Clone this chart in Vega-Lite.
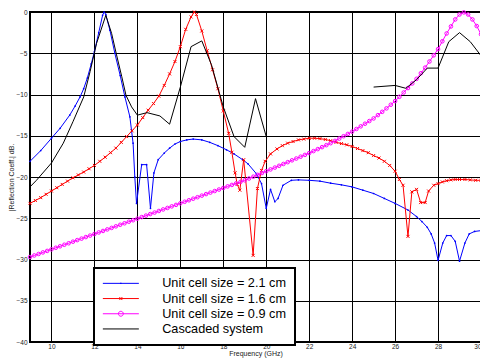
{
  "$schema": "https://vega.github.io/schema/vega-lite/v6.json",
  "width": 451,
  "height": 330,
  "autosize": {"type": "none"},
  "padding": {"left": 30, "top": 12, "right": 0, "bottom": 20},
  "background": "white",
  "config": {
    "font": "Liberation Sans",
    "view": {"stroke": "#000", "strokeWidth": 2},
    "axis": {
      "grid": true, "gridColor": "#000", "gridOpacity": 1, "gridWidth": 1,
      "ticks": false, "domain": false,
      "labelFontSize": 6.5, "labelColor": "#222", "labelFont": "Liberation Sans",
      "titleFontSize": 7, "titleFontWeight": "normal", "titleColor": "#222", "titleFont": "Liberation Sans"
    }
  },
  "datasets": {
    "blue": [
      {"f":9.0,"y":-18.1},{"f":9.5,"y":-16.8},{"f":10.0,"y":-15.3},{"f":10.4,"y":-14.1},{"f":10.85,"y":-12.5},
      {"f":11.1,"y":-11.4},{"f":11.33,"y":-10.3},{"f":11.5,"y":-9.3},{"f":11.67,"y":-8.0},{"f":11.85,"y":-6.3},
      {"f":12.0,"y":-4.8},{"f":12.2,"y":-2.5},{"f":12.38,"y":-0.4},{"f":12.45,"y":0.0},{"f":12.53,"y":-0.3},
      {"f":12.72,"y":-2.2},{"f":12.95,"y":-5.0},{"f":13.2,"y":-7.7},{"f":13.42,"y":-10.3},{"f":13.65,"y":-12.7},
      {"f":13.8,"y":-15.9},{"f":13.88,"y":-20.0},{"f":13.96,"y":-23.2},{"f":14.2,"y":-18.5},{"f":14.43,"y":-18.5},
      {"f":14.61,"y":-23.8},{"f":14.77,"y":-19.5},{"f":14.97,"y":-17.9},{"f":15.25,"y":-17.1},{"f":15.5,"y":-16.5},
      {"f":15.75,"y":-16.0},{"f":16.0,"y":-15.7},{"f":16.3,"y":-15.5},{"f":16.6,"y":-15.4},{"f":17.0,"y":-15.5},
      {"f":17.37,"y":-15.8},{"f":17.75,"y":-16.2},{"f":18.15,"y":-16.7},{"f":18.5,"y":-17.2},{"f":18.9,"y":-17.9},
      {"f":19.15,"y":-18.4},{"f":19.54,"y":-19.6},{"f":19.78,"y":-20.8},{"f":20.0,"y":-23.8},{"f":20.2,"y":-21.5},
      {"f":20.4,"y":-23.0},{"f":20.55,"y":-22.6},{"f":20.78,"y":-21.0},{"f":21.17,"y":-20.4},{"f":21.5,"y":-20.35},
      {"f":22.0,"y":-20.4},{"f":22.5,"y":-20.5},{"f":23.0,"y":-20.75},{"f":23.5,"y":-20.95},{"f":24.0,"y":-21.2},
      {"f":24.5,"y":-21.6},{"f":25.0,"y":-22.0},{"f":25.5,"y":-22.6},{"f":26.0,"y":-23.2},{"f":26.6,"y":-24.0},
      {"f":27.0,"y":-24.8},{"f":27.25,"y":-25.4},{"f":27.5,"y":-26.1},{"f":27.68,"y":-26.9},{"f":27.84,"y":-28.0},
      {"f":28.0,"y":-30.1},{"f":28.22,"y":-28.0},{"f":28.4,"y":-27.1},{"f":28.6,"y":-27.1},{"f":28.8,"y":-27.8},
      {"f":29.0,"y":-30.2},{"f":29.25,"y":-28.0},{"f":29.45,"y":-26.9},{"f":29.7,"y":-26.6},{"f":30.0,"y":-26.5}
    ],
    "red": [
      {"f":9.0,"y":-23.2},{"f":9.25,"y":-22.85},{"f":9.5,"y":-22.5},{"f":9.75,"y":-22.1},{"f":10.0,"y":-21.7},
      {"f":10.25,"y":-21.3},{"f":10.5,"y":-20.9},{"f":10.75,"y":-20.5},{"f":11.0,"y":-20.1},{"f":11.25,"y":-19.75},
      {"f":11.5,"y":-19.4},{"f":11.75,"y":-19.0},{"f":12.0,"y":-18.6},{"f":12.25,"y":-18.1},{"f":12.5,"y":-17.6},
      {"f":12.75,"y":-17.05},{"f":13.0,"y":-16.5},{"f":13.25,"y":-15.8},{"f":13.5,"y":-15.1},{"f":13.75,"y":-14.4},
      {"f":14.0,"y":-13.7},{"f":14.25,"y":-12.8},{"f":14.5,"y":-11.9},{"f":14.75,"y":-11.1},{"f":15.0,"y":-10.2},
      {"f":15.25,"y":-8.9},{"f":15.5,"y":-7.5},{"f":15.75,"y":-6.0},{"f":16.0,"y":-4.2},{"f":16.25,"y":-2.1},
      {"f":16.5,"y":-0.6},{"f":16.65,"y":0.0},{"f":16.75,"y":-0.3},{"f":17.0,"y":-2.3},{"f":17.25,"y":-4.7},
      {"f":17.5,"y":-7.0},{"f":17.75,"y":-9.3},{"f":18.0,"y":-12.0},{"f":18.25,"y":-14.7},{"f":18.4,"y":-17.0},
      {"f":18.55,"y":-19.5},{"f":18.65,"y":-20.9},{"f":18.77,"y":-21.6},{"f":18.95,"y":-17.9},{"f":19.39,"y":-29.5},
      {"f":19.59,"y":-21.4},{"f":19.78,"y":-19.2},{"f":19.95,"y":-18.1},{"f":20.2,"y":-17.2},{"f":20.5,"y":-16.6},
      {"f":20.75,"y":-16.2},{"f":21.0,"y":-15.9},{"f":21.25,"y":-15.7},{"f":21.5,"y":-15.5},{"f":21.75,"y":-15.4},
      {"f":22.0,"y":-15.3},{"f":22.25,"y":-15.3},{"f":22.5,"y":-15.35},{"f":22.75,"y":-15.45},{"f":23.0,"y":-15.6},
      {"f":23.25,"y":-15.8},{"f":23.5,"y":-15.95},{"f":23.75,"y":-16.1},{"f":24.0,"y":-16.3},{"f":24.25,"y":-16.55},
      {"f":24.5,"y":-16.8},{"f":24.75,"y":-17.05},{"f":25.0,"y":-17.4},{"f":25.25,"y":-17.7},{"f":25.5,"y":-18.1},
      {"f":25.75,"y":-18.6},{"f":26.0,"y":-19.3},{"f":26.2,"y":-20.3},{"f":26.37,"y":-21.0},{"f":26.6,"y":-27.2},
      {"f":26.78,"y":-21.8},{"f":27.0,"y":-21.5},{"f":27.19,"y":-23.1},{"f":27.4,"y":-23.1},{"f":27.56,"y":-21.7},
      {"f":27.8,"y":-21.0},{"f":28.0,"y":-20.8},{"f":28.2,"y":-20.6},{"f":28.4,"y":-20.45},{"f":28.6,"y":-20.35},
      {"f":28.8,"y":-20.3},{"f":29.0,"y":-20.3},{"f":29.25,"y":-20.3},{"f":29.5,"y":-20.35},{"f":29.75,"y":-20.4},
      {"f":30.0,"y":-20.4}
    ],
    "mag": [
      {"f":9.0,"y":-29.7},{"f":9.2,"y":-29.51},{"f":9.4,"y":-29.33},{"f":9.6,"y":-29.14},{"f":9.8,"y":-28.96},
      {"f":10.0,"y":-28.77},{"f":10.2,"y":-28.58},{"f":10.4,"y":-28.4},{"f":10.6,"y":-28.21},{"f":10.8,"y":-28.03},
      {"f":11.0,"y":-27.84},{"f":11.2,"y":-27.65},{"f":11.4,"y":-27.47},{"f":11.6,"y":-27.28},{"f":11.8,"y":-27.1},
      {"f":12.0,"y":-26.91},{"f":12.2,"y":-26.72},{"f":12.4,"y":-26.54},{"f":12.6,"y":-26.35},{"f":12.8,"y":-26.17},
      {"f":13.0,"y":-25.98},{"f":13.2,"y":-25.79},{"f":13.4,"y":-25.61},{"f":13.6,"y":-25.42},{"f":13.8,"y":-25.24},
      {"f":14.0,"y":-25.05},{"f":14.2,"y":-24.86},{"f":14.4,"y":-24.68},{"f":14.6,"y":-24.49},{"f":14.8,"y":-24.31},
      {"f":15.0,"y":-24.12},{"f":15.2,"y":-23.93},{"f":15.4,"y":-23.75},{"f":15.6,"y":-23.56},{"f":15.8,"y":-23.38},
      {"f":16.0,"y":-23.19},{"f":16.2,"y":-23.0},{"f":16.4,"y":-22.82},{"f":16.6,"y":-22.63},{"f":16.8,"y":-22.45},
      {"f":17.0,"y":-22.26},{"f":17.2,"y":-22.07},{"f":17.4,"y":-21.89},{"f":17.6,"y":-21.7},{"f":17.8,"y":-21.52},
      {"f":18.0,"y":-21.33},{"f":18.2,"y":-21.14},{"f":18.4,"y":-20.96},{"f":18.6,"y":-20.77},{"f":18.8,"y":-20.59},
      {"f":19.0,"y":-20.4},{"f":19.2,"y":-20.18},{"f":19.4,"y":-19.96},{"f":19.6,"y":-19.74},{"f":19.8,"y":-19.52},
      {"f":20.0,"y":-19.3},{"f":20.2,"y":-19.08},{"f":20.4,"y":-18.86},{"f":20.6,"y":-18.64},{"f":20.8,"y":-18.42},
      {"f":21.0,"y":-18.2},{"f":21.2,"y":-17.98},{"f":21.4,"y":-17.76},{"f":21.6,"y":-17.54},{"f":21.8,"y":-17.32},
      {"f":22.0,"y":-17.1},{"f":22.2,"y":-16.86},{"f":22.4,"y":-16.62},{"f":22.6,"y":-16.38},{"f":22.8,"y":-16.14},
      {"f":23.0,"y":-15.9},{"f":23.2,"y":-15.62},{"f":23.4,"y":-15.34},{"f":23.6,"y":-15.06},{"f":23.8,"y":-14.78},
      {"f":24.0,"y":-14.5},{"f":24.2,"y":-14.18},{"f":24.4,"y":-13.86},{"f":24.6,"y":-13.54},{"f":24.8,"y":-13.22},
      {"f":25.0,"y":-12.9},{"f":25.2,"y":-12.5},{"f":25.4,"y":-12.1},{"f":25.6,"y":-11.68},{"f":25.8,"y":-11.24},
      {"f":26.0,"y":-10.8},{"f":26.2,"y":-10.28},{"f":26.4,"y":-9.76},{"f":26.6,"y":-9.22},{"f":26.8,"y":-8.66},
      {"f":27.0,"y":-8.1},{"f":27.2,"y":-7.42},{"f":27.4,"y":-6.74},{"f":27.6,"y":-6.0},{"f":27.8,"y":-5.25},
      {"f":28.0,"y":-4.5},{"f":28.2,"y":-3.55},{"f":28.4,"y":-2.6},{"f":28.6,"y":-1.75},{"f":28.8,"y":-0.9},
      {"f":29.0,"y":-0.3},{"f":29.2,"y":-0.05},{"f":29.4,"y":-0.3},{"f":29.6,"y":-0.9},{"f":29.8,"y":-1.7},
      {"f":30.0,"y":-2.7}
    ],
    "blk": [
      {"f":9.0,"y":-21.2,"seg":1},{"f":9.3,"y":-20.4,"seg":1},{"f":10.0,"y":-18.3,"seg":1},{"f":10.55,"y":-15.9,"seg":1},
      {"f":11.0,"y":-13.3,"seg":1},{"f":11.5,"y":-10.3,"seg":1},{"f":11.8,"y":-7.2,"seg":1},{"f":12.1,"y":-3.8,"seg":1},
      {"f":12.53,"y":-0.4,"seg":1},{"f":12.8,"y":-2.6,"seg":1},{"f":13.03,"y":-5.2,"seg":1},{"f":13.27,"y":-7.8,"seg":1},
      {"f":13.47,"y":-10.1,"seg":1},{"f":13.73,"y":-11.5,"seg":1},{"f":14.0,"y":-12.5,"seg":1},{"f":14.45,"y":-12.2,"seg":1},
      {"f":15.05,"y":-12.6,"seg":1},{"f":15.5,"y":-13.6,"seg":1},{"f":16.0,"y":-9.1,"seg":1},{"f":16.5,"y":-4.2,"seg":1},
      {"f":17.0,"y":-3.5,"seg":1},{"f":17.45,"y":-6.4,"seg":1},{"f":18.0,"y":-11.5,"seg":1},{"f":18.5,"y":-15.1,"seg":1},
      {"f":19.0,"y":-16.4,"seg":1},{"f":19.5,"y":-10.5,"seg":1},{"f":20.0,"y":-15.1,"seg":1},
      {"f":25.0,"y":-9.1,"seg":2},{"f":26.0,"y":-8.9,"seg":2},{"f":26.5,"y":-9.25,"seg":2},{"f":27.0,"y":-8.2,"seg":2},
      {"f":27.5,"y":-6.8,"seg":2},{"f":28.0,"y":-6.8,"seg":2},{"f":28.5,"y":-3.6,"seg":2},{"f":29.0,"y":-2.5,"seg":2},
      {"f":29.5,"y":-3.6,"seg":2},{"f":30.0,"y":-5.3,"seg":2}
    ]
  },
  "encoding": {
    "x": {
      "field": "f", "type": "quantitative",
      "scale": {"domain": [9, 30], "nice": false, "zero": false},
      "axis": {"values": [10, 12, 14, 16, 18, 20, 22, 24, 26, 28, 30], "title": "Frequency (GHz)", "labelPadding": 1, "titlePadding": 0}
    },
    "y": {
      "field": "y", "type": "quantitative",
      "scale": {"domain": [-40, 0], "nice": false, "zero": false},
      "axis": {"values": [-40, -35, -30, -25, -20, -15, -10, -5, 0], "title": "|Reflection Coeff.| dB.", "labelPadding": 3, "titlePadding": 1}
    }
  },
  "layer": [
    {
      "data": {"name": "blue"},
      "mark": {"type": "line", "strokeWidth": 1},
      "encoding": {
        "color": {
          "datum": "Unit cell size = 2.1 cm",
          "scale": {
            "domain": ["Unit cell size = 2.1 cm", "Unit cell size = 1.6 cm", "Unit cell size = 0.9 cm", "Cascaded system"],
            "range": ["#0000ff", "#ff0000", "#ff00ff", "#000000"]
          },
          "legend": {
            "orient": "none", "legendX": 64, "legendY": 256, "title": null,
            "symbolType": "stroke", "symbolSize": 81, "symbolStrokeWidth": 1, "symbolOffset": 11.5,
            "labelFontSize": 12.7, "labelFont": "Liberation Sans", "labelColor": "#000", "labelOffset": 35, "labelLimit": 400,
            "labelExpr": "datum.label + '\u00a0\u00a0\u00a0\u00a0\u00a0\u00a0\u00a0\u00a0\u00a0'",
            "rowPadding": 1.2, "padding": 9, "strokeColor": "#000", "fillColor": "#fff",
            "encode": {
              "legend": {"update": {"strokeWidth": {"value": 2}}},
              "symbols": {"update": {"shape": {"signal": "datum.value === 'Unit cell size = 0.9 cm' ? 'M-4,0H4M0.55,0A0.55,0.55,0,1,1,-0.55,0A0.55,0.55,0,1,1,0.55,0' : datum.value === 'Unit cell size = 1.6 cm' ? 'M-4,0H4M-0.33,-0.33L0.33,0.33M-0.33,0.33L0.33,-0.33' : datum.value === 'Unit cell size = 2.1 cm' ? 'M-4,0H4M-0.12,0H0.12M0,-0.12V0.12' : 'M-4,0H4'"}}}
            }
          }
        }
      }
    },
    {
      "data": {"name": "blue"},
      "mark": {"type": "point", "filled": true, "size": 3, "color": "#0000ff", "opacity": 1}
    },
    {
      "data": {"name": "red"},
      "mark": {"type": "line", "strokeWidth": 1},
      "encoding": {"color": {"datum": "Unit cell size = 1.6 cm"}}
    },
    {
      "data": {"name": "red"},
      "mark": {"type": "point", "filled": false, "shape": "M-1,-1L1,1M-1,1L1,-1", "size": 9, "color": "#ff0000", "strokeWidth": 1, "opacity": 1}
    },
    {
      "data": {"name": "mag"},
      "mark": {"type": "line", "strokeWidth": 1},
      "encoding": {"color": {"datum": "Unit cell size = 0.9 cm"}}
    },
    {
      "data": {"name": "mag"},
      "mark": {"type": "point", "filled": false, "shape": "circle", "size": 13, "color": "#ff00ff", "strokeWidth": 1, "opacity": 1}
    },
    {
      "data": {"name": "blk"},
      "mark": {"type": "line", "strokeWidth": 1},
      "encoding": {"color": {"datum": "Cascaded system"}, "detail": {"field": "seg", "type": "nominal"}}
    }
  ]
}
